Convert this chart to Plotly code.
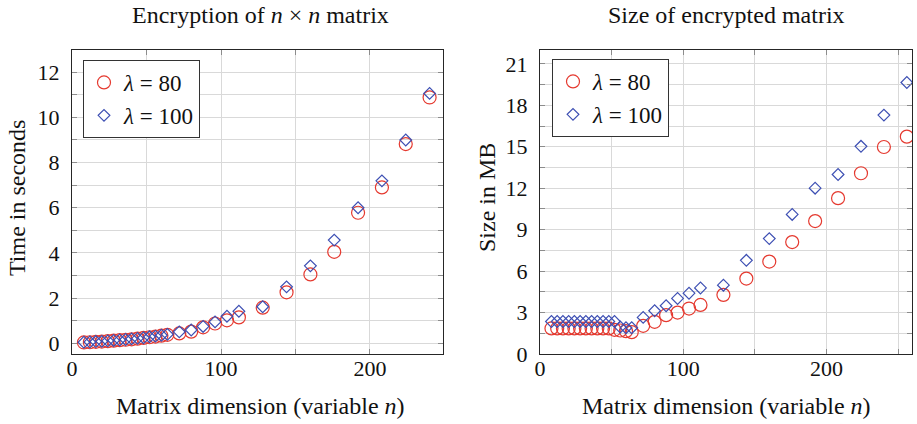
import plotly.graph_objects as go

# ---------------- data ----------------
n_left = [8, 12, 16, 20, 24, 28, 32, 36, 40, 44, 48, 52, 56, 60, 64,
          72, 80, 88, 96, 104, 112, 128, 144, 160, 176, 192, 208, 224, 240]
time_80 = [0.04, 0.05, 0.07, 0.08, 0.10, 0.12, 0.14, 0.16, 0.18, 0.21, 0.24, 0.27, 0.30, 0.34, 0.38,
           0.44, 0.52, 0.71, 0.88, 1.02, 1.15, 1.58, 2.26, 3.05, 4.05, 5.78, 6.90, 8.82, 10.88]
time_100 = [0.05, 0.06, 0.08, 0.09, 0.11, 0.13, 0.15, 0.17, 0.20, 0.22, 0.25, 0.29, 0.32, 0.36, 0.40,
            0.51, 0.59, 0.75, 0.95, 1.20, 1.42, 1.62, 2.50, 3.43, 4.57, 6.00, 7.19, 9.00, 11.06]

n_right = [8, 12, 16, 20, 24, 28, 32, 36, 40, 44, 48, 52, 56, 60, 64,
           72, 80, 88, 96, 104, 112, 128, 144, 160, 176, 192, 208, 224, 240, 256]
size_80 = [1.85, 1.85, 1.85, 1.85, 1.85, 1.85, 1.85, 1.85, 1.85, 1.85, 1.85, 1.75, 1.70, 1.65, 1.58,
           2.04, 2.33, 2.81, 3.00, 3.29, 3.55, 4.28, 5.46, 6.69, 8.10, 9.62, 11.28, 13.08, 14.98, 15.73]
size_100 = [2.35, 2.35, 2.35, 2.35, 2.35, 2.35, 2.35, 2.35, 2.35, 2.35, 2.35, 2.35, 1.95, 1.90, 1.90,
            2.65, 3.13, 3.49, 4.02, 4.40, 4.78, 4.98, 6.78, 8.35, 10.10, 12.00, 12.99, 15.03, 17.29, 19.65]

series_names = ["<i>λ</i> = 80", "<i>λ</i> = 100"]
left_title = "Encryption of <i>n</i> × <i>n</i> matrix"
right_title = "Size of encrypted matrix"
x_label = "Matrix dimension (variable <i>n</i>)"
left_ylabel = "Time in seconds"
right_ylabel = "Size in MB"

# ---------------- style ----------------
W, H = 917, 424
FONT = "Liberation Serif"
RED = "#e5392f"
BLUE = "#3d4fb3"
GRID = "#d9d9d9"
FRAME = "#262626"
TICKC = "#8c8c8c"

circle = dict(symbol="circle-open", size=13, color=RED, line=dict(width=1.2, color=RED))
diamond = dict(symbol="diamond-open", size=9, color=BLUE, line=dict(width=1.2, color=BLUE))

fig = go.Figure()
fig.add_trace(go.Scatter(x=n_left, y=time_80, mode="markers", name=series_names[0], marker=circle,
                         xaxis="x", yaxis="y", legend="legend"))
fig.add_trace(go.Scatter(x=n_left, y=time_100, mode="markers", name=series_names[1], marker=diamond,
                         xaxis="x", yaxis="y", legend="legend"))
fig.add_trace(go.Scatter(x=n_right, y=size_80, mode="markers", name=series_names[0], marker=circle,
                         xaxis="x2", yaxis="y2", legend="legend2"))
fig.add_trace(go.Scatter(x=n_right, y=size_100, mode="markers", name=series_names[1], marker=diamond,
                         xaxis="x2", yaxis="y2", legend="legend2"))


def axis_style(dtick, minor_dtick, rng, domain, anchor, standoff):
    return dict(
        range=rng, domain=domain, anchor=anchor, automargin=False,
        dtick=dtick, tick0=0,
        showgrid=True, gridcolor=GRID, gridwidth=1,
        zeroline=False,
        showline=True, linecolor=FRAME, linewidth=1, mirror="allticks",
        ticks="inside", ticklen=5, tickcolor=TICKC, tickwidth=1,
        ticklabelstandoff=standoff,
        minor=dict(dtick=minor_dtick, tick0=0, showgrid=True, gridcolor=GRID, gridwidth=1,
                   ticks="inside", ticklen=5, tickcolor=TICKC, tickwidth=1),
        tickfont=dict(family=FONT, size=22, color="#111"),
        fixedrange=True,
    )


ydom = [1 - 354 / H, 1 - 50 / H]
legend_font = dict(family=FONT, size=23, color="#111")
fig.update_layout(
    width=W, height=H,
    margin=dict(l=0, r=0, t=0, b=0, pad=0),
    paper_bgcolor="white", plot_bgcolor="white",
    font=dict(family=FONT, size=22, color="#111"),
    xaxis=axis_style(100, 50, [0, 249], [72 / W, 443 / W], "y", -5),
    yaxis=axis_style(2, 1, [-0.47, 12.98], ydom, "x", 7),
    xaxis2=axis_style(100, 50, [0, 259.6], [540 / W, 912 / W], "y2", -5),
    yaxis2=axis_style(3, 1.5, [0, 22.0], ydom, "x2", 7),
    legend=dict(x=83 / W, y=1 - 60 / H, xanchor="left", yanchor="top",
                bordercolor="#333", borderwidth=1, bgcolor="white",
                font=legend_font, itemwidth=30, tracegroupgap=0),
    legend2=dict(x=552 / W, y=1 - 59 / H, xanchor="left", yanchor="top",
                 bordercolor="#333", borderwidth=1, bgcolor="white",
                 font=legend_font, itemwidth=30, tracegroupgap=0),
)

ann_font = dict(family=FONT, size=24, color="#111")
fig.add_annotation(text=left_title, x=260 / W, y=1 - 15 / H, xref="paper", yref="paper",
                   showarrow=False, xanchor="center", yanchor="middle", font=ann_font)
fig.add_annotation(text=right_title, x=726 / W, y=1 - 15 / H, xref="paper", yref="paper",
                   showarrow=False, xanchor="center", yanchor="middle", font=ann_font)
fig.add_annotation(text=x_label, x=260 / W, y=1 - 406 / H, xref="paper", yref="paper",
                   showarrow=False, xanchor="center", yanchor="middle", font=ann_font)
fig.add_annotation(text=x_label, x=726 / W, y=1 - 406 / H, xref="paper", yref="paper",
                   showarrow=False, xanchor="center", yanchor="middle", font=ann_font)
fig.add_annotation(text=left_ylabel, x=17 / W, y=1 - 198 / H, xref="paper", yref="paper",
                   showarrow=False, xanchor="center", yanchor="middle", textangle=-90, font=ann_font)
fig.add_annotation(text=right_ylabel, x=487 / W, y=1 - 198 / H, xref="paper", yref="paper",
                   showarrow=False, xanchor="center", yanchor="middle", textangle=-90, font=ann_font)

fig.write_html("out.html")
